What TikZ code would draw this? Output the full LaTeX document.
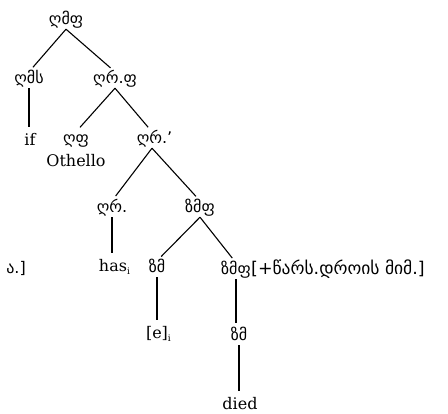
\documentclass[tikz,border=0pt]{standalone}
\usepackage{fontspec}
\newfontfamily\geofont{DejaVu Sans}
\newfontfamily\wordfont{DejaVu Serif}
\usetikzlibrary{positioning}

\tikzset{
  cat/.style={font=\geofont\fontsize{16}{19}\selectfont, inner sep=0pt,
    text height=12pt, text depth=4pt, anchor=base},
  word/.style={font=\wordfont\fontsize{16}{19}\selectfont, inner sep=0pt,
    text height=13pt, text depth=4pt, anchor=base},
  branch/.style={line width=1.1pt, shorten >=6pt},
}

\begin{document}
\begin{tikzpicture}[x=1pt, y=-1pt]
    \useasboundingbox (0,0) rectangle (448,414);
    % categories
    \node[cat] (root) at (66,25) {ღმფ};
    \node[cat] (dms) at (29,84) {ღმს};
    \node[cat] (drp) at (115,84) {ღრ.ფ};
    \node[cat] (ghp) at (76,144) {ღფ};
    \node[cat] (drpr) at (152,144) {ღრ.\rlap{’}};
    \node[cat] (dr) at (112,213) {ღრ.};
    \node[cat] (zmp) at (200,213) {ზმფ};
    \node[cat] (zm) at (157,273) {ზმ};
    \node[cat] (zmp2) at (236,275) {ზმფ};
    \node[cat, anchor=base west, font=\geofont\fontsize{17.5}{19}\selectfont]
      (feat) at (zmp2.base east) {[+წარს.დროის მიმ.]};
    \node[cat] (zm2) at (239,341) {ზმ};
    \node[cat, anchor=base east] (frag) at (26,274) {ა.]};
    % words
    \node[word] (if) at (30,146) {if};
    \node[word] (othello) at (76,167) {Othello};
    \node[word] (has) at (113,272) {has\rlap{\fontsize{9}{9}\selectfont\raisebox{-3pt}{i}}};
    \node[word] (e) at (157,339) {[e]\rlap{\fontsize{9}{9}\selectfont\raisebox{-3pt}{i}}};
    \node[word] (died) at (240,410) {died};
    % branches
    \draw[branch] (root.south) -- (dms.north);
    \draw[branch] (root.south) -- (drp.north);
    \draw[branch] (dms.south) -- (dms.south |- if.north);
    \draw[branch] (drp.south) -- (ghp.north);
    \draw[branch] (drp.south) -- (drpr.north);
    \draw[branch] (drpr.south) -- (dr.north);
    \draw[branch] (drpr.south) -- (zmp.north);
    \draw[branch] (dr.south) -- (dr.south |- has.north);
    \draw[branch] (zmp.south) -- (zm.north);
    \draw[branch] (zmp.south) -- (zmp2.north);
    \draw[branch] (zm.south) -- (zm.south |- e.north);
    \draw[branch] (zmp2.south) -- (zmp2.south |- zm2.north);
    \draw[branch] (zm2.south) -- (zm2.south |- died.north);
\end{tikzpicture}
\end{document}
